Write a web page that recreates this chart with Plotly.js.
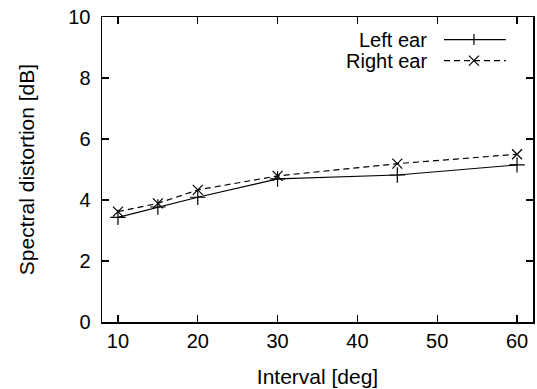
<!DOCTYPE html>
<html>
<head>
<meta charset="utf-8">
<script src="https://cdn.plot.ly/plotly-3.0.1.min.js"></script>
<style>html,body{margin:0;padding:0;background:#fff;}#chart{width:537px;height:389px;}</style>
</head>
<body>
<div id="chart"></div>
<script>
const intervals = [10, 15, 20, 30, 45, 60];
const leftEar = [3.43, 3.77, 4.09, 4.69, 4.82, 5.15];
const rightEar = [3.62, 3.89, 4.33, 4.79, 5.19, 5.50];
const xTicks = [10, 20, 30, 40, 50, 60];
const yTicks = [0, 2, 4, 6, 8, 10];
const seriesNames = ['Left ear', 'Right ear'];

const FONT = 'Liberation Sans, Arial, Helvetica, sans-serif';

const traces = [
  {
    x: intervals, y: leftEar, name: seriesNames[0], type: 'scatter', mode: 'lines+markers',
    line: {color: '#000', width: 1.2},
    marker: {symbol: 'cross-thin-open', size: 11, color: '#000', line: {color: '#000', width: 1.2}},
    showlegend: false
  },
  {
    x: intervals, y: rightEar, name: seriesNames[1], type: 'scatter', mode: 'lines+markers',
    line: {color: '#000', width: 1.2, dash: '6px,4px'},
    marker: {symbol: 'x-thin-open', size: 10, color: '#000', line: {color: '#000', width: 1.2}},
    showlegend: false
  }
];

const axisCommon = {
  showline: true, linecolor: '#000', linewidth: 1.5, mirror: 'allticks',
  ticks: 'inside', ticklen: 7, tickwidth: 1.2, tickcolor: '#000',
  showgrid: false, zeroline: false,
  tickfont: {family: FONT, size: 20, color: '#000'}
};

// legend drawn at top-right, text on the left and sample on the right (as in the reference)
const legX = 0.863, legY1 = 0.926, legY2 = 0.857;
const shapes = [
  {type: 'line', xref: 'paper', yref: 'paper', x0: 0.7935, x1: 0.937, y0: legY1, y1: legY1, line: {color: '#000', width: 1.2}},
  {type: 'line', xref: 'paper', yref: 'paper', x0: 0.7935, x1: 0.937, y0: legY2, y1: legY2, line: {color: '#000', width: 1.2, dash: '6px,4px'}},
  {type: 'line', xref: 'paper', yref: 'paper', xsizemode: 'pixel', ysizemode: 'pixel', xanchor: legX, yanchor: legY1, x0: 0, x1: 0, y0: -5.5, y1: 5.5, line: {color: '#000', width: 1.2}},
  {type: 'line', xref: 'paper', yref: 'paper', xsizemode: 'pixel', ysizemode: 'pixel', xanchor: legX, yanchor: legY2, x0: -5, x1: 5, y0: -5, y1: 5, line: {color: '#000', width: 1.2}},
  {type: 'line', xref: 'paper', yref: 'paper', xsizemode: 'pixel', ysizemode: 'pixel', xanchor: legX, yanchor: legY2, x0: -5, x1: 5, y0: 5, y1: -5, line: {color: '#000', width: 1.2}}
];
const annotations = [
  {text: seriesNames[0], xref: 'paper', yref: 'paper', x: 0.757, y: legY1, xanchor: 'right', yanchor: 'middle', showarrow: false, borderpad: 0, font: {family: FONT, size: 20, color: '#000'}},
  {text: seriesNames[1], xref: 'paper', yref: 'paper', x: 0.757, y: legY2, xanchor: 'right', yanchor: 'middle', showarrow: false, borderpad: 0, font: {family: FONT, size: 20, color: '#000'}}
];

const layout = {
  width: 537, height: 389,
  margin: {l: 102, r: 4, t: 17, b: 67},
  paper_bgcolor: '#fff', plot_bgcolor: '#fff',
  font: {family: FONT, size: 20, color: '#000'},
  showlegend: false,
  xaxis: Object.assign({}, axisCommon, {
    range: [8, 62], tickvals: xTicks, ticktext: xTicks.map(String),
    title: {text: 'Interval [deg]', font: {family: FONT, size: 21, color: '#000'}, standoff: 19}
  }),
  yaxis: Object.assign({}, axisCommon, {
    range: [0, 10], tickvals: yTicks, ticktext: yTicks.map(String),
    ticklabelstandoff: 6,
    title: {text: 'Spectral distortion [dB]', font: {family: FONT, size: 21, color: '#000'}, standoff: 28}
  }),
  shapes: shapes,
  annotations: annotations
};

Plotly.newPlot('chart', traces, layout, {staticPlot: true, displayModeBar: false});
</script>
</body>
</html>
